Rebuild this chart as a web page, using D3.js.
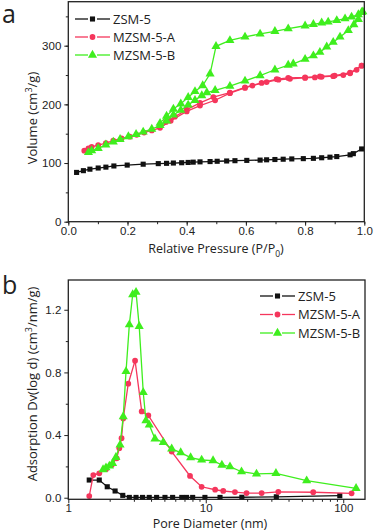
<!DOCTYPE html>
<html>
<head>
<meta charset="utf-8">
<script src="https://cdn.jsdelivr.net/npm/d3@7"></script>
<style>
  body { margin: 0; background: #fff; }
  svg { display: block; font-family: "Open Sans", sans-serif; }
  .axis path, .axis line { stroke: #222; }
  .axis text { font-size: 11.5px; fill: #222; }
</style>
</head>
<body>
<svg id="chart" width="374" height="531"></svg>
<script>
// ---- panel a : N2 isotherms (P/P0, cm3/g)
var zsmIso = [[0.028,84],[0.051,87],[0.073,89.5],[0.101,91.5],[0.127,93],[0.154,95],[0.199,96.5],[0.253,98],[0.304,99],[0.332,99.5],[0.355,100],[0.383,100.5],[0.405,101],[0.422,101.5],[0.445,102],[0.479,102.5],[0.503,103],[0.535,103.5],[0.563,104],[0.603,104.5],[0.648,105],[0.670,105.5],[0.698,106],[0.726,106.5],[0.755,107],[0.794,107.5],[0.828,108],[0.856,109],[0.884,110],[0.907,111],[0.952,114],[0.963,116],[0.991,124]];
var aAds = [[0.054,121],[0.068,125],[0.079,127.5],[0.101,130.5],[0.127,134],[0.152,138],[0.180,142],[0.208,145],[0.231,148],[0.256,152],[0.282,155.5],[0.310,160],[0.346,172],[0.400,188],[0.445,198],[0.496,207],[0.546,219],[0.597,228],[0.622,232],[0.670,238],[0.710,242],[0.749,243.5],[0.800,245],[0.833,246],[0.856,247],[0.895,248],[0.929,250],[0.952,253],[0.974,259],[0.991,266]];
var aDes = [[0.991,266],[0.952,254],[0.900,249],[0.850,247.5],[0.800,246],[0.743,245],[0.704,243],[0.653,236.5],[0.597,229],[0.546,220],[0.490,212.5],[0.445,202.5],[0.400,191],[0.360,179],[0.330,170]];
var bAds = [[0.068,118],[0.079,121],[0.101,125],[0.127,131],[0.152,136],[0.175,140.5],[0.203,145],[0.229,149],[0.253,153],[0.282,158],[0.310,164],[0.332,172],[0.355,182],[0.380,190],[0.405,199],[0.428,207],[0.451,215],[0.468,220],[0.496,224],[0.546,231],[0.597,240],[0.648,249],[0.698,259],[0.743,267],[0.760,269],[0.800,277],[0.828,283],[0.850,289],[0.873,298],[0.895,306],[0.918,315],[0.946,326],[0.965,336],[0.980,345],[0.991,357]];
var bDes = [[0.995,358],[0.980,353],[0.957,349],[0.935,346],[0.907,343],[0.878,340.5],[0.856,339],[0.828,336.5],[0.800,334],[0.743,329],[0.698,324.5],[0.648,320],[0.597,315],[0.546,309],[0.499,299],[0.479,252],[0.454,232],[0.428,222],[0.405,212],[0.380,201],[0.355,192],[0.332,180],[0.310,168]];

// ---- panel b : pore size distribution (nm, cm3/nm/g)
var zsmPsd = [[1.42,0.113],[1.68,0.113],[1.92,0.070],[2.19,0.043],[2.49,0.015],[2.78,0.002],[3.11,0.002],[3.47,0.002],[3.88,0.002],[4.39,0.002],[5.05,0.002],[5.74,0.002],[6.69,0.002],[7.25,0.002],[8.03,0.002],[9.86,0.002],[12.7,0.002],[18.3,0.003],[32.6,0.006],[94.4,0.013]];
var aPsd = [[1.42,0.011],[1.52,0.145],[1.68,0.156],[1.88,0.182],[2.07,0.209],[2.25,0.252],[2.35,0.316],[2.44,0.380],[2.51,0.506],[2.73,0.728],[3.06,0.875],[3.42,0.551],[3.82,0.525],[5.65,0.295],[7.68,0.139],[9.33,0.070],[11.7,0.051],[13.4,0.043],[16.3,0.036],[19.8,0.030],[25.5,0.030],[33.7,0.038],[60.5,0.035],[115,0.028]];
var bPsd = [[1.79,0.18],[1.88,0.192],[1.99,0.203],[2.10,0.220],[2.22,0.258],[2.38,0.337],[2.51,0.518],[2.63,0.806],[2.78,1.105],[2.94,1.297],[3.11,1.312],[3.28,1.094],[3.51,0.672],[3.67,0.493],[3.88,0.465],[4.27,0.376],[4.91,0.354],[5.65,0.312],[6.57,0.288],[7.76,0.256],[9.33,0.241],[11.3,0.237],[13.1,0.209],[15.0,0.198],[18.2,0.166],[23.4,0.152],[32.4,0.156],[54.2,0.109],[124,0.060]];

var names = ["ZSM-5", "MZSM-5-A", "MZSM-5-B"];
var colors = ["#111111", "#f5365c", "#3fee1e"];
var shapes = [d3.symbolSquare, d3.symbolCircle, d3.symbolTriangle];
var sizes = [26, 26, 36];

var xTicksA = [0, 0.2, 0.4, 0.6, 0.8, 1.0];
var yTicksA = [0, 100, 200, 300];
var xTicksB = [1, 10, 100];
var yTicksB = [0, 0.4, 0.8, 1.2];

var svg = d3.select("#chart");

function drawFrame(g, x, y) {
  var xr = x.range(), yr = y.range();
  g.append("rect")
    .attr("x", xr[0]).attr("y", yr[1])
    .attr("width", xr[1] - xr[0]).attr("height", yr[0] - yr[1])
    .attr("fill", "none").attr("stroke", "#222").attr("stroke-width", 1.3);
}

function drawSeries(g, x, y, data, i) {
  var line = d3.line().x(function(d) { return x(d[0]); }).y(function(d) { return y(d[1]); });
  g.append("path").datum(data)
    .attr("d", line)
    .attr("fill", "none")
    .attr("stroke", colors[i])
    .attr("stroke-width", 1.3);
  g.selectAll(null).data(data).enter().append("path")
    .attr("d", d3.symbol().type(shapes[i]).size(sizes[i]))
    .attr("transform", function(d) { return "translate(" + x(d[0]) + "," + y(d[1]) + ")"; })
    .attr("fill", colors[i]);
}

function drawLegend(g, lx, ly, dy) {
  names.forEach(function(n, i) {
    var row = g.append("g").attr("transform", "translate(" + lx + "," + (ly + i * dy) + ")");
    row.append("line").attr("x1", 0).attr("x2", 13).attr("stroke", colors[i]).attr("stroke-width", 1.3);
    row.append("line").attr("x1", 22).attr("x2", 35).attr("stroke", colors[i]).attr("stroke-width", 1.3);
    row.append("path").attr("d", d3.symbol().type(shapes[i]).size(sizes[i]))
      .attr("transform", "translate(17.5,0)").attr("fill", colors[i]);
    row.append("text").attr("x", 38).attr("dy", "0.36em")
      .attr("font-size", 13).attr("fill", "#222").text(n);
  });
}

// ================= panel a
var xA = d3.scaleLinear().domain([0, 1]).range([68.3, 364.3]);
var yA = d3.scaleLinear().domain([0, 375]).range([221.7, 1.7]);
var ga = svg.append("g");

ga.append("g").attr("class", "axis")
  .attr("transform", "translate(0," + yA(0) + ")")
  .call(d3.axisBottom(xA).tickValues(d3.range(0, 1.01, 0.1)).tickSize(2.5).tickFormat(""));
ga.append("g").attr("class", "axis")
  .attr("transform", "translate(0," + yA(0) + ")")
  .call(d3.axisBottom(xA).tickValues(xTicksA).tickSize(4).tickPadding(1.5).tickFormat(d3.format(".1f")));
ga.append("g").attr("class", "axis")
  .attr("transform", "translate(" + xA(0) + ",0)")
  .call(d3.axisLeft(yA).tickValues(d3.range(0, 351, 50)).tickSize(2.5).tickFormat(""));
ga.append("g").attr("class", "axis")
  .attr("transform", "translate(" + xA(0) + ",0)")
  .call(d3.axisLeft(yA).tickValues(yTicksA).tickSize(4).tickPadding(3));
ga.selectAll(".axis .domain").remove();

drawSeries(ga, xA, yA, zsmIso, 0);
drawSeries(ga, xA, yA, aDes, 1);
drawSeries(ga, xA, yA, aAds, 1);
drawSeries(ga, xA, yA, bAds, 2);
drawSeries(ga, xA, yA, bDes, 2);
drawFrame(ga, xA, yA);
drawLegend(ga, 75, 19, 18);

ga.append("text").attr("x", 2).attr("y", 23).attr("font-size", 25).attr("fill", "#222").text("a");
var tA = ga.append("text").attr("x", 216).attr("y", 253).attr("text-anchor", "middle")
  .attr("font-size", 12.5).attr("fill", "#222");
tA.append("tspan").text("Relative Pressure (P/P");
tA.append("tspan").attr("font-size", 8.5).attr("dy", 4).text("0");
tA.append("tspan").attr("dy", -4).text(")");
var vA = ga.append("text").attr("transform", "translate(37,118) rotate(-90)")
  .attr("text-anchor", "middle").attr("font-size", 13).attr("fill", "#222");
vA.append("tspan").text("Volume (cm");
vA.append("tspan").attr("font-size", 9).attr("dy", -5).text("3");
vA.append("tspan").attr("dy", 5).text("/g)");

// ================= panel b
var xB = d3.scaleLog().domain([1, 144]).range([68.3, 365]);
var yB = d3.scaleLinear().domain([-0.01, 1.39]).range([499.3, 280]);
var gb = svg.append("g");

var minorB = [2,3,4,5,6,7,8,9,20,30,40,50,60,70,80,90];
gb.append("g").attr("class", "axis")
  .attr("transform", "translate(0," + yB.range()[0] + ")")
  .call(d3.axisBottom(xB).tickValues(minorB).tickSize(2.5).tickFormat(""));
gb.append("g").attr("class", "axis")
  .attr("transform", "translate(0," + yB.range()[0] + ")")
  .call(d3.axisBottom(xB).tickValues(xTicksB).tickSize(4).tickPadding(1).tickFormat(d3.format("d")));
gb.append("g").attr("class", "axis")
  .attr("transform", "translate(" + xB.range()[0] + ",0)")
  .call(d3.axisLeft(yB).tickValues([0.2, 0.6, 1.0]).tickSize(2.5).tickFormat(""));
gb.append("g").attr("class", "axis")
  .attr("transform", "translate(" + xB.range()[0] + ",0)")
  .call(d3.axisLeft(yB).tickValues(yTicksB).tickSize(4).tickPadding(3).tickFormat(d3.format(".1f")));
gb.selectAll(".axis .domain").remove();

drawSeries(gb, xB, yB, zsmPsd, 0);
drawSeries(gb, xB, yB, aPsd, 1);
drawSeries(gb, xB, yB, bPsd, 2);
drawFrame(gb, xB, yB);
drawLegend(gb, 260, 296, 18.5);

gb.append("text").attr("x", 2).attr("y", 294).attr("font-size", 25).attr("fill", "#222").text("b");
gb.append("text").attr("x", 210).attr("y", 528).attr("text-anchor", "middle")
  .attr("font-size", 12.5).attr("fill", "#222").text("Pore Diameter (nm)");
var vB = gb.append("text").attr("transform", "translate(37,384) rotate(-90)")
  .attr("text-anchor", "middle").attr("font-size", 13).attr("fill", "#222");
vB.append("tspan").text("Adsorption Dv(log d) (cm");
vB.append("tspan").attr("font-size", 9).attr("dy", -5).text("3");
vB.append("tspan").attr("dy", 5).text("/nm/g)");
</script>
</body>
</html>
